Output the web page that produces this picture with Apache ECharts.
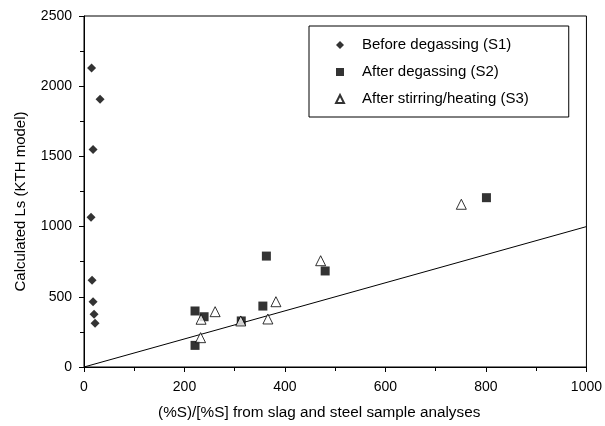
<!DOCTYPE html>
<html><head><meta charset="utf-8">
<script src="https://cdn.jsdelivr.net/npm/echarts@6/dist/echarts.min.js"></script>
<style>html,body{margin:0;padding:0;background:#fff}#c{width:605px;height:426px}</style>
</head><body><div id="c"></div>
<script>
const s1X = [15, 32, 18, 14, 16, 18, 20, 22];
const s1Y = [2130, 1907, 1550, 1066, 617, 465, 375, 311];
const s2X = [221, 239, 221, 313, 356, 363, 480, 801];
const s2Y = [399, 358, 154, 328, 434, 790, 684, 1206];
const s3X = [261, 233, 232, 312, 382, 366, 471, 751];
const s3Y = [394, 340, 209, 328, 465, 342, 757, 1159];
const lineX = [0, 1000];
const lineY = [0, 1000];
const names = ['Before degassing (S1)', 'After degassing (S2)', 'After stirring/heating (S3)'];
const zip = (a, b) => a.map((v, i) => [v, b[i]]);
const font = 'Liberation Sans, Arial, sans-serif';
const chart = echarts.init(document.getElementById('c'));
chart.setOption({
  animation: false,
  grid: {left: 84, right: 16, top: 16, bottom: 59, show: true, borderColor: '#000', borderWidth: 1},
  legend: {
    data: names, orient: 'vertical', left: 309, top: 26,
    padding: [11, 40, 10, 26], itemGap: 11, itemWidth: 8, itemHeight: 8,
    borderColor: '#000', borderWidth: 1,
    textStyle: {fontFamily: font, fontSize: 15, lineHeight: 16, color: '#000', padding: [0, 0, 0, 13]}
  },
  xAxis: {
    type: 'value', min: 0, max: 1000, interval: 200,
    axisLine: {lineStyle: {color: '#000'}},
    axisTick: {lineStyle: {color: '#000'}, length: 5},
    minorTick: {show: true, splitNumber: 2, length: 4, lineStyle: {color: '#000'}},
    splitLine: {show: false},
    axisLabel: {fontFamily: font, fontSize: 14, color: '#000', margin: 13, formatter: v => String(v)},
    name: '(%S)/[%S] from slag and steel sample analyses', nameLocation: 'middle', nameGap: 38,
    nameTextStyle: {fontFamily: font, fontSize: 15.3, color: '#000', padding: [0, 32, 0, 0]}
  },
  yAxis: {
    type: 'value', min: 0, max: 2500, interval: 500,
    axisLine: {lineStyle: {color: '#000'}},
    axisTick: {lineStyle: {color: '#000'}, length: 5},
    minorTick: {show: true, splitNumber: 2, length: 4, lineStyle: {color: '#000'}},
    splitLine: {show: false},
    axisLabel: {fontFamily: font, fontSize: 14, color: '#000', margin: 12, formatter: v => String(v)},
    name: 'Calculated Ls (KTH model)', nameLocation: 'middle', nameGap: 56,
    nameTextStyle: {fontFamily: font, fontSize: 15, color: '#000', padding: [0, 20, 0, 0]}
  },
  series: [
    {name: names[0], type: 'scatter', symbol: 'diamond', symbolSize: 9, data: zip(s1X, s1Y),
     itemStyle: {color: '#000'}},
    {name: names[1], type: 'scatter', symbol: 'rect', symbolSize: 9, data: zip(s2X, s2Y),
     itemStyle: {color: '#000'}},
    {name: names[2], type: 'scatter', symbol: 'triangle', symbolSize: 10, data: zip(s3X, s3Y),
     itemStyle: {color: '#fff', borderColor: '#000', borderWidth: 1}},
    {type: 'line', data: zip(lineX, lineY), symbol: 'none', lineStyle: {color: '#000', width: 1}, z: 1}
  ]
});
</script></body></html>
